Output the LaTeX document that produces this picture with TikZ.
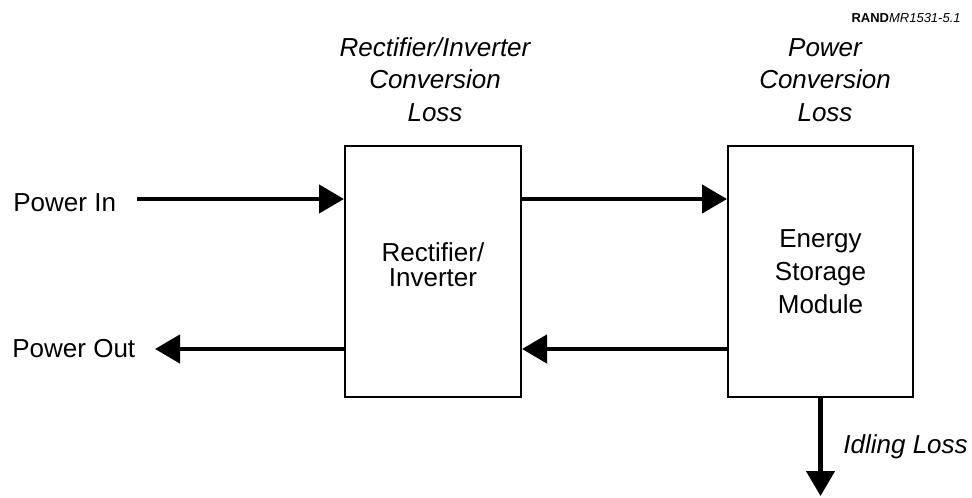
\documentclass[tikz,border=0pt]{standalone}
\usepackage{fontspec}
\setmainfont{Liberation Sans}
\usepackage{tikz}
\usetikzlibrary{
  arrows.meta,
  positioning,
  calc,
}
\definecolor{ink}{HTML}{000000}
\tikzset{
  >={Triangle[length=12.5pt, width=14pt]},
  font=\fontsize{13}{16}\selectfont,
  every node/.append style={text=ink},
  block/.style={
    draw=ink,
    line width=1pt,
    minimum height=125.5pt,
    align=center,
    inner sep=0pt,
  },
  loss/.style={font=\fontsize{13}{16.25}\selectfont\itshape, align=center, inner sep=0pt},
  tag/.style={anchor=base west, inner sep=0pt},
  flow/.style={draw=ink, line width=2.25pt, ->},
}

\begin{document}
\begin{tikzpicture}[x=0.5pt,y=-0.5pt]
  \useasboundingbox (0,0) rectangle (972,497);
  \node[anchor=base east, inner sep=0pt, font=\fontsize{6.5}{8}\selectfont] (figno) at (961,23) {\textbf{RAND}\textit{MR1531-5.1}};

  % the two blocks
  \node[block, minimum width=88pt, text depth=7pt, font=\fontsize{13}{12.5}\selectfont] (rect) at (433,271.5) {Rectifier/\\Inverter};
  \node[block, minimum width=92.5pt, font=\fontsize{13}{16.5}\selectfont] (esm) at (820.5,271.5) {Energy\\Storage\\Module};

  % losses above and below
  \node[loss, anchor=south] (rectloss) at (435,122) {Rectifier/Inverter\\Conversion\\Loss};
  \node[loss, anchor=south] (esmloss) at (825,122) {Power\\Conversion\\Loss};
  \node[loss, tag] (idleloss) at (843,453) {Idling Loss};

  % in and out on the left
  \node[tag] (pin) at (13,212) {Power In};
  \node[tag] (pout) at (12,357) {Power Out};
  \coordinate (intail) at (137,199);
  \coordinate (outtip) at (155,349);
  \coordinate (idletip) at (820.5,496);

  \draw[flow] (intail) -- (intail -| rect.west);
  \draw[flow] (outtip -| rect.west) -- (outtip);
  \draw[flow] (rect.east |- intail) -- (esm.west |- intail);
  \draw[flow] (esm.west |- outtip) -- (rect.east |- outtip);
  \draw[flow] (esm.south) -- (idletip);
\end{tikzpicture}
\end{document}
